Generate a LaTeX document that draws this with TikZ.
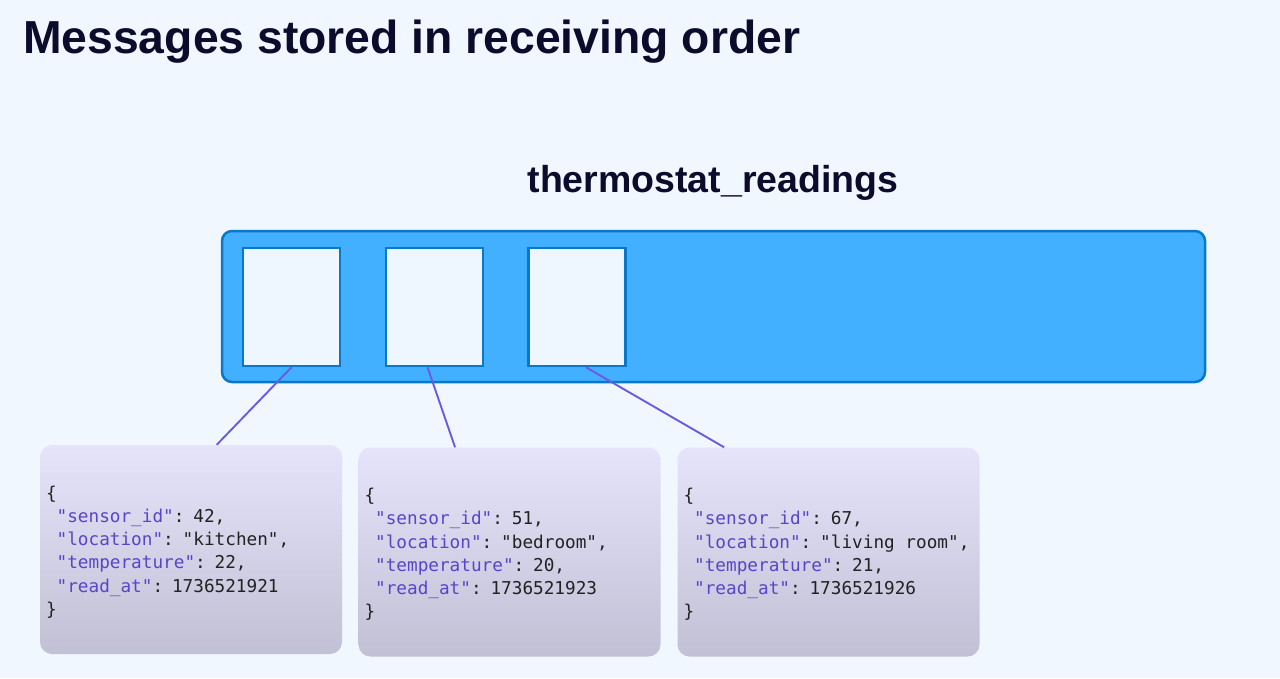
\documentclass[tikz,border=0pt]{standalone}
\usepackage{fontspec}
\setmainfont{Liberation Sans}
\newfontfamily\codefont{DejaVu Sans Mono}
\usetikzlibrary{calc}
\definecolor{bg}{HTML}{F0F7FF}
\definecolor{titlec}{HTML}{0B0B2B}
\definecolor{barfill}{HTML}{42AFFF}
\definecolor{barline}{HTML}{0A78C8}
\definecolor{cellfill}{HTML}{EEF6FF}
\definecolor{codetop}{HTML}{E6E4FA}
\definecolor{codebot}{HTML}{C1C0D5}
\definecolor{keyc}{HTML}{5A44C8}
\definecolor{valc}{HTML}{222222}
\definecolor{linkc}{HTML}{6B5BE0}
\newcommand\jkey[1]{\textcolor{keyc}{"#1"}}
\newcommand\ind{\hphantom{x}}
\newcommand\fixspace{\spaceskip=\fontcharwd\font`\x\relax}
\begin{document}
\begin{tikzpicture}[x=1pt,y=-1pt,
  titlestyle/.style={anchor=base west,inner sep=0,text=titlec,font=\fontsize{46.3pt}{50pt}\selectfont\bfseries},
  subtitle/.style={anchor=base,inner sep=0,text=titlec,font=\fontsize{37.5pt}{40pt}\selectfont\bfseries},
  bar/.style={draw=barline,line width=2.5pt,fill=barfill,rounded corners=10pt,minimum width=983pt,minimum height=151pt,inner sep=0},
  cell/.style={draw=barline,line width=2.5pt,fill=cellfill,minimum width=97pt,minimum height=118pt,inner sep=0},
  codebox/.style={rounded corners=12pt,top color=codetop,bottom color=codebot,minimum width=302pt,minimum height=209pt,inner sep=0},
  codetext/.style={inner xsep=6pt,inner ysep=0pt,text width=290pt,align=left,text=valc,font=\codefont\fontsize{17.7pt}{23.2pt}\selectfont},
  link/.style={draw=linkc,line width=1.9pt}]
\useasboundingbox[fill=bg] (0,0) rectangle (1280,678);

\node[titlestyle] (title) at (23,53) {Messages stored in receiving order};
\node[subtitle] (topic) at (713,192) {thermostat\_readings};

\node[bar] (bar) at (713.5,306.5) {};
\node[cell] (cell1) at (291.5,307) {};
\node[cell] (cell2) at (434.5,307) {};
\node[cell] (cell3) at (577,307) {};

\node[codebox] (code1) at (191,549.5) {};
\node[codebox] (code2) at (509.5,552) {};
\node[codebox] (code3) at (828.5,552) {};

\node[codetext] (text1) at ($(code1.center)+(0,2.5)$) {\fixspace\{\\
\ind\jkey{sensor\_id}: 42,\\
\ind\jkey{location}: "kitchen",\\
\ind\jkey{temperature}: 22,\\
\ind\jkey{read\_at}: 1736521921\\
\}};
\node[codetext] (text2) at ($(code2.center)+(0,2.5)$) {\fixspace\{\\
\ind\jkey{sensor\_id}: 51,\\
\ind\jkey{location}: "bedroom",\\
\ind\jkey{temperature}: 20,\\
\ind\jkey{read\_at}: 1736521923\\
\}};
\node[codetext] (text3) at ($(code3.center)+(0,2.5)$) {\fixspace\{\\
\ind\jkey{sensor\_id}: 67,\\
\ind\jkey{location}: "living room",\\
\ind\jkey{temperature}: 21,\\
\ind\jkey{read\_at}: 1736521926\\
\}};

\draw[link] (cell1.south) -- ($(code1.north west)!0.585!(code1.north east)$);
\draw[link] ($(cell2.south west)!0.43!(cell2.south east)$) -- ($(code2.north west)!0.32!(code2.north east)$);
\draw[link] ($(cell3.south west)!0.59!(cell3.south east)$) -- ($(code3.north west)!0.155!(code3.north east)$);
\end{tikzpicture}
\end{document}
